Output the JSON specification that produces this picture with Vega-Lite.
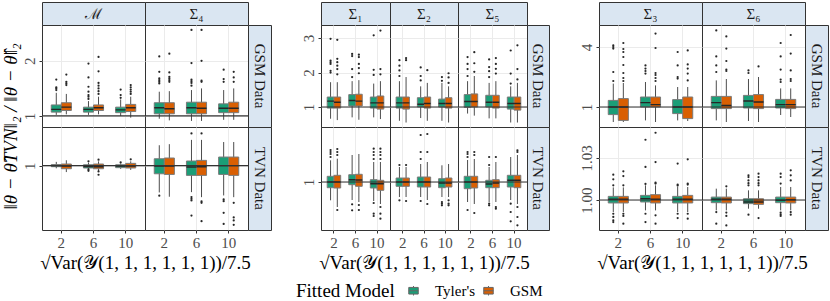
{
"$schema": "https://vega.github.io/schema/vega-lite/v6.json",
"background": "white",
"padding": {"left": 0, "top": 1, "right": 0, "bottom": 0},
"columns": 12, "spacing": 0, "bounds": "flush",
"resolve": {"scale": {"xOffset": "independent"}},
"datasets": {
"bGM": [{"x":"2","m":"Tyler's","lo":1.02,"q1":1.07,"md":1.12,"q3":1.2,"hi":1.42},{"x":"2","m":"GSM","lo":1.03,"q1":1.1,"md":1.16,"q3":1.24,"hi":1.4},{"x":"6","m":"Tyler's","lo":1.02,"q1":1.07,"md":1.12,"q3":1.16,"hi":1.27},{"x":"6","m":"GSM","lo":1.03,"q1":1.1,"md":1.15,"q3":1.2,"hi":1.35},{"x":"10","m":"Tyler's","lo":1.0,"q1":1.06,"md":1.11,"q3":1.16,"hi":1.3},{"x":"10","m":"GSM","lo":0.97,"q1":1.08,"md":1.15,"q3":1.21,"hi":1.35}],
"oGM": [{"x":"2","m":"Tyler's","v":[1.47,1.5,1.52,1.66]},{"x":"2","m":"GSM","v":[1.56,1.59,1.62,1.75]},{"x":"6","m":"Tyler's","v":[1.31,1.35,1.38,1.44,1.53,1.7,1.95]},{"x":"6","m":"GSM","v":[1.4,1.45,1.5,1.55,1.6,1.81,2.07]},{"x":"10","m":"Tyler's","v":[1.33,1.38,1.48]},{"x":"10","m":"GSM","v":[1.4,1.44,1.48,1.52,1.56]}],
"bG4": [{"x":"2","m":"Tyler's","lo":0.95,"q1":1.04,"md":1.15,"q3":1.24,"hi":1.44},{"x":"2","m":"GSM","lo":0.92,"q1":1.04,"md":1.13,"q3":1.24,"hi":1.45},{"x":"6","m":"Tyler's","lo":0.91,"q1":1.04,"md":1.15,"q3":1.25,"hi":1.47},{"x":"6","m":"GSM","lo":0.91,"q1":1.04,"md":1.14,"q3":1.25,"hi":1.5},{"x":"10","m":"Tyler's","lo":0.93,"q1":1.06,"md":1.14,"q3":1.22,"hi":1.47},{"x":"10","m":"GSM","lo":0.93,"q1":1.06,"md":1.14,"q3":1.25,"hi":1.5}],
"oG4": [{"x":"2","m":"Tyler's","v":[1.59,1.62,1.65,1.68,1.8,2.08]},{"x":"2","m":"GSM","v":[1.62,1.65,1.68,1.71,1.79,2.13]},{"x":"6","m":"Tyler's","v":[1.55,1.6,1.63,1.66,1.96,2.56]},{"x":"6","m":"GSM","v":[1.62,1.64,2.0,2.56]},{"x":"10","m":"Tyler's","v":[1.62,1.67,1.84]},{"x":"10","m":"GSM","v":[1.62,1.7,1.8]}],
"bTM": [{"x":"2","m":"Tyler's","lo":0.975,"q1":0.99,"md":1.0,"q3":1.01,"hi":1.035},{"x":"2","m":"GSM","lo":0.94,"q1":0.971,"md":0.995,"q3":1.015,"hi":1.05},{"x":"6","m":"Tyler's","lo":0.96,"q1":0.978,"md":0.992,"q3":1.008,"hi":1.027},{"x":"6","m":"GSM","lo":0.95,"q1":0.971,"md":0.99,"q3":1.015,"hi":1.04},{"x":"10","m":"Tyler's","lo":0.97,"q1":0.981,"md":0.995,"q3":1.008,"hi":1.02},{"x":"10","m":"GSM","lo":0.96,"q1":0.978,"md":0.996,"q3":1.021,"hi":1.04}],
"oTM": [{"x":"6","m":"Tyler's","v":[1.04,0.952,0.965]},{"x":"6","m":"GSM","v":[1.055,0.946,0.915]},{"x":"10","m":"Tyler's","v":[1.03]},{"x":"10","m":"GSM","v":[1.059]}],
"bT4": [{"x":"2","m":"Tyler's","lo":0.75,"q1":0.924,"md":0.995,"q3":1.064,"hi":1.19},{"x":"2","m":"GSM","lo":0.71,"q1":0.918,"md":0.995,"q3":1.071,"hi":1.2},{"x":"6","m":"Tyler's","lo":0.753,"q1":0.909,"md":0.987,"q3":1.043,"hi":1.24},{"x":"6","m":"GSM","lo":0.706,"q1":0.909,"md":0.99,"q3":1.049,"hi":1.24},{"x":"10","m":"Tyler's","lo":0.722,"q1":0.918,"md":1.0,"q3":1.08,"hi":1.22},{"x":"10","m":"GSM","lo":0.706,"q1":0.909,"md":1.0,"q3":1.08,"hi":1.22}],
"oT4": [{"x":"2","m":"Tyler's","v":[0.72]},{"x":"6","m":"Tyler's","v":[1.3,0.707,0.691,0.676,0.535]},{"x":"6","m":"GSM","v":[1.3,0.666,0.653,0.482]},{"x":"10","m":"Tyler's","v":[0.685,0.669,0.56,0.457]},{"x":"10","m":"GSM","v":[0.653,0.517,0.489,0.448]}],
"bG1": [{"x":"2","m":"Tyler's","lo":0.66,"q1":0.97,"md":1.17,"q3":1.29,"hi":1.72},{"x":"2","m":"GSM","lo":0.62,"q1":0.97,"md":1.14,"q3":1.29,"hi":1.72},{"x":"6","m":"Tyler's","lo":0.7,"q1":1.03,"md":1.19,"q3":1.36,"hi":1.75},{"x":"6","m":"GSM","lo":0.63,"q1":1.03,"md":1.17,"q3":1.37,"hi":1.78},{"x":"10","m":"Tyler's","lo":0.7,"q1":0.97,"md":1.12,"q3":1.29,"hi":1.68},{"x":"10","m":"GSM","lo":0.65,"q1":0.94,"md":1.12,"q3":1.32,"hi":1.75}],
"oG1": [{"x":"2","m":"Tyler's","v":[2.0,2.05,2.25,2.3,2.35,2.98]},{"x":"2","m":"GSM","v":[1.95,2.1,2.2,2.3,2.4,2.95]},{"x":"6","m":"Tyler's","v":[1.87,2.1,2.48,2.54]},{"x":"6","m":"GSM","v":[1.98,2.13,2.25,2.45,2.52]},{"x":"10","m":"Tyler's","v":[1.93,2.08,3.08]},{"x":"10","m":"GSM","v":[1.95,2.1,3.22]}],
"bG2": [{"x":"2","m":"Tyler's","lo":0.6,"q1":0.97,"md":1.12,"q3":1.29,"hi":1.75},{"x":"2","m":"GSM","lo":0.55,"q1":0.94,"md":1.12,"q3":1.29,"hi":1.87},{"x":"6","m":"Tyler's","lo":0.68,"q1":1.0,"md":1.08,"q3":1.27,"hi":1.6},{"x":"6","m":"GSM","lo":0.6,"q1":0.97,"md":1.1,"q3":1.29,"hi":1.7},{"x":"10","m":"Tyler's","lo":0.6,"q1":1.0,"md":1.1,"q3":1.23,"hi":1.7},{"x":"10","m":"GSM","lo":0.55,"q1":0.97,"md":1.1,"q3":1.27,"hi":1.6}],
"oG2": [{"x":"2","m":"Tyler's","v":[1.9,2.06,2.2,2.36]},{"x":"2","m":"GSM","v":[2.36,2.42]},{"x":"6","m":"Tyler's","v":[1.77,1.9,2.15]},{"x":"6","m":"GSM","v":[2.07]},{"x":"10","m":"Tyler's","v":[1.76,1.87]},{"x":"10","m":"GSM","v":[1.7,1.86,1.98]}],
"bG5": [{"x":"2","m":"Tyler's","lo":0.81,"q1":0.99,"md":1.16,"q3":1.36,"hi":1.75},{"x":"2","m":"GSM","lo":0.75,"q1":1.0,"md":1.16,"q3":1.38,"hi":1.9},{"x":"6","m":"Tyler's","lo":0.67,"q1":1.0,"md":1.14,"q3":1.34,"hi":1.7},{"x":"6","m":"GSM","lo":0.67,"q1":0.97,"md":1.14,"q3":1.34,"hi":1.75},{"x":"10","m":"Tyler's","lo":0.55,"q1":0.94,"md":1.1,"q3":1.29,"hi":1.6},{"x":"10","m":"GSM","lo":0.55,"q1":0.91,"md":1.1,"q3":1.29,"hi":1.7}],
"oG5": [{"x":"2","m":"Tyler's","v":[1.9,2.1,2.25,2.45]},{"x":"2","m":"GSM","v":[2.02,2.27,2.59]},{"x":"6","m":"Tyler's","v":[1.87,2.04,2.16,2.38]},{"x":"6","m":"GSM","v":[1.97,2.11,2.25,2.42]},{"x":"10","m":"Tyler's","v":[1.68,1.97,2.64]},{"x":"10","m":"GSM","v":[1.8,2.1,2.79]}],
"bT1": [{"x":"2","m":"Tyler's","lo":0.817,"q1":0.943,"md":1.0,"q3":1.057,"hi":1.217},{"x":"2","m":"GSM","lo":0.75,"q1":0.94,"md":1.0,"q3":1.067,"hi":1.233},{"x":"6","m":"Tyler's","lo":0.82,"q1":0.973,"md":1.023,"q3":1.073,"hi":1.27},{"x":"6","m":"GSM","lo":0.8,"q1":0.957,"md":1.02,"q3":1.077,"hi":1.28},{"x":"10","m":"Tyler's","lo":0.81,"q1":0.94,"md":0.983,"q3":1.023,"hi":1.2},{"x":"10","m":"GSM","lo":0.78,"q1":0.917,"md":0.983,"q3":1.017,"hi":1.2}],
"oT1": [{"x":"2","m":"Tyler's","v":[1.25,1.28,1.3,1.32]},{"x":"2","m":"GSM","v":[1.27,1.3,1.33,0.72]},{"x":"6","m":"Tyler's","v":[0.777,0.717]},{"x":"6","m":"GSM","v":[0.77,0.72]},{"x":"10","m":"Tyler's","v":[1.23,1.27,1.3,1.333,0.79,0.683,0.66]},{"x":"10","m":"GSM","v":[1.23,1.27,1.3,1.333,0.75,0.683,0.633]}],
"bT2": [{"x":"2","m":"Tyler's","lo":0.85,"q1":0.957,"md":1.0,"q3":1.04,"hi":1.15},{"x":"2","m":"GSM","lo":0.85,"q1":0.957,"md":1.0,"q3":1.04,"hi":1.15},{"x":"6","m":"Tyler's","lo":0.85,"q1":0.95,"md":1.0,"q3":1.05,"hi":1.18},{"x":"6","m":"GSM","lo":0.82,"q1":0.95,"md":1.0,"q3":1.05,"hi":1.2},{"x":"10","m":"Tyler's","lo":0.85,"q1":0.943,"md":0.99,"q3":1.033,"hi":1.167},{"x":"10","m":"GSM","lo":0.85,"q1":0.95,"md":0.99,"q3":1.04,"hi":1.18}],
"oT2": [{"x":"2","m":"Tyler's","v":[1.17,0.817]},{"x":"2","m":"GSM","v":[1.17,0.81]},{"x":"6","m":"Tyler's","v":[1.23,1.3,1.47,0.81]},{"x":"6","m":"GSM","v":[1.3,1.48,0.78]},{"x":"10","m":"Tyler's","v":[0.8,0.783,0.767]},{"x":"10","m":"GSM","v":[0.817,0.783,0.767]}],
"bT5": [{"x":"2","m":"Tyler's","lo":0.8,"q1":0.933,"md":1.0,"q3":1.057,"hi":1.22},{"x":"2","m":"GSM","lo":0.78,"q1":0.94,"md":1.0,"q3":1.057,"hi":1.23},{"x":"6","m":"Tyler's","lo":0.8,"q1":0.943,"md":0.98,"q3":1.017,"hi":1.15},{"x":"6","m":"GSM","lo":0.8,"q1":0.943,"md":0.99,"q3":1.023,"hi":1.2},{"x":"10","m":"Tyler's","lo":0.82,"q1":0.95,"md":1.017,"q3":1.067,"hi":1.25},{"x":"10","m":"GSM","lo":0.78,"q1":0.943,"md":1.017,"q3":1.067,"hi":1.27}],
"oT5": [{"x":"2","m":"Tyler's","v":[1.25,1.28,1.3,0.72]},{"x":"2","m":"GSM","v":[1.27,1.3,0.69]},{"x":"6","m":"Tyler's","v":[1.17,1.25,0.783,0.767]},{"x":"6","m":"GSM","v":[1.25,0.75,0.733]},{"x":"10","m":"Tyler's","v":[0.783,0.7,0.607]},{"x":"10","m":"GSM","v":[1.3,1.317,0.75,0.65,0.567]}],
"bG3": [{"x":"2","m":"Tyler's","lo":0.25,"q1":0.62,"md":1.0,"q3":1.33,"hi":2.17},{"x":"2","m":"GSM","lo":0.25,"q1":0.33,"md":1.0,"q3":1.42,"hi":2.2},{"x":"6","m":"Tyler's","lo":0.33,"q1":1.0,"md":1.22,"q3":1.5,"hi":2.25},{"x":"6","m":"GSM","lo":0.25,"q1":1.0,"md":1.12,"q3":1.5,"hi":2.08},{"x":"10","m":"Tyler's","lo":0.33,"q1":0.67,"md":1.0,"q3":1.37,"hi":2.0},{"x":"10","m":"GSM","lo":0.3,"q1":0.42,"md":1.0,"q3":1.5,"hi":2.0}],
"oG3": [{"x":"2","m":"Tyler's","v":[2.3,2.75,3.92,4.0,4.08]},{"x":"2","m":"GSM","v":[2.3,2.45,2.7,3.1,3.5,3.75,3.9,4.2]},{"x":"6","m":"Tyler's","v":[2.67,2.8,2.92,3.08]},{"x":"6","m":"GSM","v":[2.3,2.45,2.6,2.7,3.95,4.67]},{"x":"10","m":"Tyler's","v":[2.42,2.5,3.08,3.75]},{"x":"10","m":"GSM","v":[2.33,2.67,2.92,3.13,3.83]}],
"bG6": [{"x":"2","m":"Tyler's","lo":0.33,"q1":0.92,"md":1.22,"q3":1.53,"hi":2.33},{"x":"2","m":"GSM","lo":0.25,"q1":0.92,"md":1.08,"q3":1.53,"hi":2.4},{"x":"6","m":"Tyler's","lo":0.3,"q1":0.95,"md":1.3,"q3":1.58,"hi":2.4},{"x":"6","m":"GSM","lo":0.25,"q1":0.92,"md":1.25,"q3":1.62,"hi":2.5},{"x":"10","m":"Tyler's","lo":0.6,"q1":0.95,"md":1.12,"q3":1.38,"hi":1.93},{"x":"10","m":"GSM","lo":0.5,"q1":0.92,"md":1.12,"q3":1.38,"hi":1.93}],
"oG6": [{"x":"2","m":"Tyler's","v":[2.75,3.08,3.53,4.83]},{"x":"2","m":"GSM","v":[2.8,2.87,3.3,3.92,4.53]},{"x":"6","m":"Tyler's","v":[2.7,2.83]},{"x":"6","m":"GSM","v":[3.03]},{"x":"10","m":"Tyler's","v":[2.25,2.37,2.87,3.53,4.2]},{"x":"10","m":"GSM","v":[2.3,2.4,2.83,3.67,4.6]}],
"bT3": [{"x":"2","m":"Tyler's","lo":0.9914,"q1":0.9979,"md":1.0005,"q3":1.0026,"hi":1.009},{"x":"2","m":"GSM","lo":0.9914,"q1":0.9979,"md":1.0005,"q3":1.0026,"hi":1.009},{"x":"6","m":"Tyler's","lo":0.9926,"q1":0.9986,"md":1.001,"q3":1.0033,"hi":1.0105},{"x":"6","m":"GSM","lo":0.9926,"q1":0.9979,"md":1.0005,"q3":1.0038,"hi":1.0105},{"x":"10","m":"Tyler's","lo":0.9914,"q1":0.9979,"md":1.0005,"q3":1.0026,"hi":1.0093},{"x":"10","m":"GSM","lo":0.9914,"q1":0.9979,"md":1.0005,"q3":1.0033,"hi":1.0093}],
"oT3": [{"x":"2","m":"Tyler's","v":[1.0105,1.0148,1.0181,0.9902,0.9879,0.9855,0.9843]},{"x":"2","m":"GSM","v":[1.0105,1.0171,1.0205,0.9902,0.9886,0.9831]},{"x":"6","m":"Tyler's","v":[1.0115,1.0236,1.043,0.9902,0.9843]},{"x":"6","m":"GSM","v":[1.0117,1.0124,1.0271,1.048,0.9891,0.9831]},{"x":"10","m":"Tyler's","v":[1.0103,1.011,1.026,0.9902,0.9871]},{"x":"10","m":"GSM","v":[1.011,1.0117,1.029,0.9902,0.9867]}],
"bT6": [{"x":"2","m":"Tyler's","lo":0.9926,"q1":0.9981,"md":1.0005,"q3":1.0021,"hi":1.0081},{"x":"2","m":"GSM","lo":0.9926,"q1":0.9979,"md":1.0005,"q3":1.0021,"hi":1.0081},{"x":"6","m":"Tyler's","lo":0.9938,"q1":0.9974,"md":0.9986,"q3":1.0009,"hi":1.0069},{"x":"6","m":"GSM","lo":0.9938,"q1":0.9969,"md":0.9986,"q3":1.0009,"hi":1.0069},{"x":"10","m":"Tyler's","lo":0.9926,"q1":0.9981,"md":0.9998,"q3":1.0021,"hi":1.0093},{"x":"10","m":"GSM","lo":0.9926,"q1":0.9979,"md":1.0002,"q3":1.0021,"hi":1.0093}],
"oT6": [{"x":"2","m":"Tyler's","v":[0.9914,0.9831]},{"x":"2","m":"GSM","v":[1.0098,0.991,0.9886,0.9819]},{"x":"6","m":"Tyler's","v":[1.0105,1.012,1.014,1.0164,1.0176,0.9895]},{"x":"6","m":"GSM","v":[1.0105,1.012,1.014,1.0164,1.0188,0.9871]},{"x":"10","m":"Tyler's","v":[1.0117,1.0164,1.0188,0.991,0.9898,0.9886]},{"x":"10","m":"GSM","v":[1.014,1.0176,1.0212,0.9914,0.9895]}]
},
"concat": [
{"width":103,"height":23,"view":{"fill":"#dae6f2","stroke":"#333"},"data":{"values":[{"t":"ℳ"}]},"mark":{"type":"text","fontSize":15,"color":"#1a1a1a"},"encoding":{"text":{"field":"t"},"x":{"field":"t","type":"nominal","axis":null},"y":{"field":"t","type":"nominal","axis":null}}},
{"width":103,"height":23,"view":{"fill":"#dae6f2","stroke":"#333"},"data":{"values":[{"t":"Σ₄"}]},"mark":{"type":"text","fontSize":15,"color":"#1a1a1a"},"encoding":{"text":{"field":"t"},"x":{"field":"t","type":"nominal","axis":null},"y":{"field":"t","type":"nominal","axis":null}}},
{"width":23,"height":23,"view":{"stroke":null},"data":{"values":[]},"mark":"text","encoding":{}},
{"width":50,"height":23,"view":{"stroke":null},"data":{"values":[]},"mark":"text","encoding":{}},
{"width":69,"height":23,"view":{"fill":"#dae6f2","stroke":"#333"},"data":{"values":[{"t":"Σ₁"}]},"mark":{"type":"text","fontSize":15,"color":"#1a1a1a"},"encoding":{"text":{"field":"t"},"x":{"field":"t","type":"nominal","axis":null},"y":{"field":"t","type":"nominal","axis":null}}},
{"width":68,"height":23,"view":{"fill":"#dae6f2","stroke":"#333"},"data":{"values":[{"t":"Σ₂"}]},"mark":{"type":"text","fontSize":15,"color":"#1a1a1a"},"encoding":{"text":{"field":"t"},"x":{"field":"t","type":"nominal","axis":null},"y":{"field":"t","type":"nominal","axis":null}}},
{"width":69,"height":23,"view":{"fill":"#dae6f2","stroke":"#333"},"data":{"values":[{"t":"Σ₅"}]},"mark":{"type":"text","fontSize":15,"color":"#1a1a1a"},"encoding":{"text":{"field":"t"},"x":{"field":"t","type":"nominal","axis":null},"y":{"field":"t","type":"nominal","axis":null}}},
{"width":22,"height":23,"view":{"stroke":null},"data":{"values":[]},"mark":"text","encoding":{}},
{"width":50,"height":23,"view":{"stroke":null},"data":{"values":[]},"mark":"text","encoding":{}},
{"width":103,"height":23,"view":{"fill":"#dae6f2","stroke":"#333"},"data":{"values":[{"t":"Σ₃"}]},"mark":{"type":"text","fontSize":15,"color":"#1a1a1a"},"encoding":{"text":{"field":"t"},"x":{"field":"t","type":"nominal","axis":null},"y":{"field":"t","type":"nominal","axis":null}}},
{"width":103,"height":23,"view":{"fill":"#dae6f2","stroke":"#333"},"data":{"values":[{"t":"Σ₆"}]},"mark":{"type":"text","fontSize":15,"color":"#1a1a1a"},"encoding":{"text":{"field":"t"},"x":{"field":"t","type":"nominal","axis":null},"y":{"field":"t","type":"nominal","axis":null}}},
{"width":23,"height":23,"view":{"stroke":null},"data":{"values":[]},"mark":"text","encoding":{}},

{"width":103,"height":102,"layer":[{"encoding":{"x":{"field":"x","type":"nominal","scale":{"type":"band","domain":["2","6","10"],"paddingInner":0,"paddingOuter":0.1},"axis":{"title":null,"labels":false,"ticks":false,"grid":true,"bandPosition":0.5}},"xOffset":{"field":"m","type":"nominal","scale":{"type":"band","domain":["Tyler's","GSM"],"paddingInner":0,"paddingOuter":0.6}}},"layer":[
{"data":{"name":"bGM"},"mark":{"type":"rule","color":"#4d4d4d"},"encoding":{"y":{"field":"lo","type":"quantitative","scale":{"domain":[0.8,2.65],"nice":false,"zero":false},"axis":{"values":[1,2],"format":"~g","labelAngle":270,"labelAlign":"center","labelBaseline":"bottom","grid":true,"title":"‖θ − θ̂TVN‖₂ / ‖θ − θ̂‖₂","titleFontStyle":"italic","titleY":101,"titlePadding":2}},"y2":{"field":"hi"}}},
{"data":{"name":"bGM"},"mark":{"type":"bar","stroke":"#7a7a7a","strokeWidth":1},"encoding":{"y":{"field":"q1","type":"quantitative"},"y2":{"field":"q3"},"color":{"field":"m","type":"nominal","title":"Fitted Model","scale":{"domain":["Tyler's","GSM"],"range":["#1b9e77","#d95f02"]}}}},
{"data":{"name":"bGM"},"mark":{"type":"bar","fillOpacity":0,"stroke":"#262626","strokeWidth":1.4},"encoding":{"y":{"field":"md","type":"quantitative"},"y2":{"field":"md"}}},
{"data":{"name":"oGM"},"transform":[{"flatten":["v"]}],"mark":{"type":"circle","size":5,"color":"#262626","opacity":1},"encoding":{"y":{"field":"v","type":"quantitative"}}}]},
{"data":{"values":[{"ref":1}]},"mark":{"type":"rule","color":"#333","strokeWidth":1.2},"encoding":{"y":{"field":"ref","type":"quantitative"}}}]},

{"width":103,"height":102,"layer":[{"encoding":{"x":{"field":"x","type":"nominal","scale":{"type":"band","domain":["2","6","10"],"paddingInner":0,"paddingOuter":0.1},"axis":{"title":null,"labels":false,"ticks":false,"grid":true,"bandPosition":0.5}},"xOffset":{"field":"m","type":"nominal","scale":{"type":"band","domain":["Tyler's","GSM"],"paddingInner":0,"paddingOuter":0.6}}},"layer":[
{"data":{"name":"bG4"},"mark":{"type":"rule","color":"#4d4d4d"},"encoding":{"y":{"field":"lo","type":"quantitative","scale":{"domain":[0.8,2.65],"nice":false,"zero":false},"axis":{"values":[1,2],"labels":false,"ticks":false,"grid":true,"title":null}},"y2":{"field":"hi"}}},
{"data":{"name":"bG4"},"mark":{"type":"bar","stroke":"#7a7a7a","strokeWidth":1},"encoding":{"y":{"field":"q1","type":"quantitative"},"y2":{"field":"q3"},"color":{"field":"m","type":"nominal","title":"Fitted Model","scale":{"domain":["Tyler's","GSM"],"range":["#1b9e77","#d95f02"]}}}},
{"data":{"name":"bG4"},"mark":{"type":"bar","fillOpacity":0,"stroke":"#262626","strokeWidth":1.4},"encoding":{"y":{"field":"md","type":"quantitative"},"y2":{"field":"md"}}},
{"data":{"name":"oG4"},"transform":[{"flatten":["v"]}],"mark":{"type":"circle","size":5,"color":"#262626","opacity":1},"encoding":{"y":{"field":"v","type":"quantitative"}}}]},
{"data":{"values":[{"ref":1}]},"mark":{"type":"rule","color":"#333","strokeWidth":1.2},"encoding":{"y":{"field":"ref","type":"quantitative"}}}]},

{"width":23,"height":102,"view":{"fill":"#dae6f2","stroke":"#333"},"data":{"values":[{"t":"GSM Data"}]},"mark":{"type":"text","angle":90,"fontSize":15,"color":"#1a1a1a"},"encoding":{"text":{"field":"t"},"x":{"field":"t","type":"nominal","axis":null},"y":{"field":"t","type":"nominal","axis":null}}},
{"width":50,"height":102,"view":{"stroke":null},"data":{"values":[]},"mark":"text","encoding":{}},

{"width":69,"height":102,"layer":[{"encoding":{"x":{"field":"x","type":"nominal","scale":{"type":"band","domain":["2","6","10"],"paddingInner":0,"paddingOuter":0.1},"axis":{"title":null,"labels":false,"ticks":false,"grid":true,"bandPosition":0.5}},"xOffset":{"field":"m","type":"nominal","scale":{"type":"band","domain":["Tyler's","GSM"],"paddingInner":0,"paddingOuter":0.6}}},"layer":[
{"data":{"name":"bG1"},"mark":{"type":"rule","color":"#4d4d4d"},"encoding":{"y":{"field":"lo","type":"quantitative","scale":{"domain":[0.42,3.38],"nice":false,"zero":false},"axis":{"values":[1,2,3],"format":"~g","labelAngle":270,"labelAlign":"center","labelBaseline":"bottom","grid":true,"title":null}},"y2":{"field":"hi"}}},
{"data":{"name":"bG1"},"mark":{"type":"bar","stroke":"#7a7a7a","strokeWidth":1},"encoding":{"y":{"field":"q1","type":"quantitative"},"y2":{"field":"q3"},"color":{"field":"m","type":"nominal","title":"Fitted Model","scale":{"domain":["Tyler's","GSM"],"range":["#1b9e77","#d95f02"]}}}},
{"data":{"name":"bG1"},"mark":{"type":"bar","fillOpacity":0,"stroke":"#262626","strokeWidth":1.4},"encoding":{"y":{"field":"md","type":"quantitative"},"y2":{"field":"md"}}},
{"data":{"name":"oG1"},"transform":[{"flatten":["v"]}],"mark":{"type":"circle","size":5,"color":"#262626","opacity":1},"encoding":{"y":{"field":"v","type":"quantitative"}}}]},
{"data":{"values":[{"ref":1}]},"mark":{"type":"rule","color":"#333","strokeWidth":1.2},"encoding":{"y":{"field":"ref","type":"quantitative"}}}]},

{"width":68,"height":102,"layer":[{"encoding":{"x":{"field":"x","type":"nominal","scale":{"type":"band","domain":["2","6","10"],"paddingInner":0,"paddingOuter":0.1},"axis":{"title":null,"labels":false,"ticks":false,"grid":true,"bandPosition":0.5}},"xOffset":{"field":"m","type":"nominal","scale":{"type":"band","domain":["Tyler's","GSM"],"paddingInner":0,"paddingOuter":0.6}}},"layer":[
{"data":{"name":"bG2"},"mark":{"type":"rule","color":"#4d4d4d"},"encoding":{"y":{"field":"lo","type":"quantitative","scale":{"domain":[0.42,3.38],"nice":false,"zero":false},"axis":{"values":[1,2,3],"labels":false,"ticks":false,"grid":true,"title":null}},"y2":{"field":"hi"}}},
{"data":{"name":"bG2"},"mark":{"type":"bar","stroke":"#7a7a7a","strokeWidth":1},"encoding":{"y":{"field":"q1","type":"quantitative"},"y2":{"field":"q3"},"color":{"field":"m","type":"nominal","title":"Fitted Model","scale":{"domain":["Tyler's","GSM"],"range":["#1b9e77","#d95f02"]}}}},
{"data":{"name":"bG2"},"mark":{"type":"bar","fillOpacity":0,"stroke":"#262626","strokeWidth":1.4},"encoding":{"y":{"field":"md","type":"quantitative"},"y2":{"field":"md"}}},
{"data":{"name":"oG2"},"transform":[{"flatten":["v"]}],"mark":{"type":"circle","size":5,"color":"#262626","opacity":1},"encoding":{"y":{"field":"v","type":"quantitative"}}}]},
{"data":{"values":[{"ref":1}]},"mark":{"type":"rule","color":"#333","strokeWidth":1.2},"encoding":{"y":{"field":"ref","type":"quantitative"}}}]},

{"width":69,"height":102,"layer":[{"encoding":{"x":{"field":"x","type":"nominal","scale":{"type":"band","domain":["2","6","10"],"paddingInner":0,"paddingOuter":0.1},"axis":{"title":null,"labels":false,"ticks":false,"grid":true,"bandPosition":0.5}},"xOffset":{"field":"m","type":"nominal","scale":{"type":"band","domain":["Tyler's","GSM"],"paddingInner":0,"paddingOuter":0.6}}},"layer":[
{"data":{"name":"bG5"},"mark":{"type":"rule","color":"#4d4d4d"},"encoding":{"y":{"field":"lo","type":"quantitative","scale":{"domain":[0.42,3.38],"nice":false,"zero":false},"axis":{"values":[1,2,3],"labels":false,"ticks":false,"grid":true,"title":null}},"y2":{"field":"hi"}}},
{"data":{"name":"bG5"},"mark":{"type":"bar","stroke":"#7a7a7a","strokeWidth":1},"encoding":{"y":{"field":"q1","type":"quantitative"},"y2":{"field":"q3"},"color":{"field":"m","type":"nominal","title":"Fitted Model","scale":{"domain":["Tyler's","GSM"],"range":["#1b9e77","#d95f02"]}}}},
{"data":{"name":"bG5"},"mark":{"type":"bar","fillOpacity":0,"stroke":"#262626","strokeWidth":1.4},"encoding":{"y":{"field":"md","type":"quantitative"},"y2":{"field":"md"}}},
{"data":{"name":"oG5"},"transform":[{"flatten":["v"]}],"mark":{"type":"circle","size":5,"color":"#262626","opacity":1},"encoding":{"y":{"field":"v","type":"quantitative"}}}]},
{"data":{"values":[{"ref":1}]},"mark":{"type":"rule","color":"#333","strokeWidth":1.2},"encoding":{"y":{"field":"ref","type":"quantitative"}}}]},

{"width":22,"height":102,"view":{"fill":"#dae6f2","stroke":"#333"},"data":{"values":[{"t":"GSM Data"}]},"mark":{"type":"text","angle":90,"fontSize":15,"color":"#1a1a1a"},"encoding":{"text":{"field":"t"},"x":{"field":"t","type":"nominal","axis":null},"y":{"field":"t","type":"nominal","axis":null}}},
{"width":50,"height":102,"view":{"stroke":null},"data":{"values":[]},"mark":"text","encoding":{}},

{"width":103,"height":102,"layer":[{"encoding":{"x":{"field":"x","type":"nominal","scale":{"type":"band","domain":["2","6","10"],"paddingInner":0,"paddingOuter":0.1},"axis":{"title":null,"labels":false,"ticks":false,"grid":true,"bandPosition":0.5}},"xOffset":{"field":"m","type":"nominal","scale":{"type":"band","domain":["Tyler's","GSM"],"paddingInner":0,"paddingOuter":0.6}}},"layer":[
{"data":{"name":"bG3"},"mark":{"type":"rule","color":"#4d4d4d"},"encoding":{"y":{"field":"lo","type":"quantitative","scale":{"domain":[0,5.1],"nice":false,"zero":false},"axis":{"values":[1,2,3,4],"format":"~g","labelAngle":270,"labelAlign":"center","labelBaseline":"bottom","grid":true,"title":null}},"y2":{"field":"hi"}}},
{"data":{"name":"bG3"},"mark":{"type":"bar","stroke":"#7a7a7a","strokeWidth":1},"encoding":{"y":{"field":"q1","type":"quantitative"},"y2":{"field":"q3"},"color":{"field":"m","type":"nominal","title":"Fitted Model","scale":{"domain":["Tyler's","GSM"],"range":["#1b9e77","#d95f02"]}}}},
{"data":{"name":"bG3"},"mark":{"type":"bar","fillOpacity":0,"stroke":"#262626","strokeWidth":1.4},"encoding":{"y":{"field":"md","type":"quantitative"},"y2":{"field":"md"}}},
{"data":{"name":"oG3"},"transform":[{"flatten":["v"]}],"mark":{"type":"circle","size":5,"color":"#262626","opacity":1},"encoding":{"y":{"field":"v","type":"quantitative"}}}]},
{"data":{"values":[{"ref":1}]},"mark":{"type":"rule","color":"#333","strokeWidth":1.2},"encoding":{"y":{"field":"ref","type":"quantitative"}}}]},

{"width":103,"height":102,"layer":[{"encoding":{"x":{"field":"x","type":"nominal","scale":{"type":"band","domain":["2","6","10"],"paddingInner":0,"paddingOuter":0.1},"axis":{"title":null,"labels":false,"ticks":false,"grid":true,"bandPosition":0.5}},"xOffset":{"field":"m","type":"nominal","scale":{"type":"band","domain":["Tyler's","GSM"],"paddingInner":0,"paddingOuter":0.6}}},"layer":[
{"data":{"name":"bG6"},"mark":{"type":"rule","color":"#4d4d4d"},"encoding":{"y":{"field":"lo","type":"quantitative","scale":{"domain":[0,5.1],"nice":false,"zero":false},"axis":{"values":[1,2,3,4],"labels":false,"ticks":false,"grid":true,"title":null}},"y2":{"field":"hi"}}},
{"data":{"name":"bG6"},"mark":{"type":"bar","stroke":"#7a7a7a","strokeWidth":1},"encoding":{"y":{"field":"q1","type":"quantitative"},"y2":{"field":"q3"},"color":{"field":"m","type":"nominal","title":"Fitted Model","scale":{"domain":["Tyler's","GSM"],"range":["#1b9e77","#d95f02"]}}}},
{"data":{"name":"bG6"},"mark":{"type":"bar","fillOpacity":0,"stroke":"#262626","strokeWidth":1.4},"encoding":{"y":{"field":"md","type":"quantitative"},"y2":{"field":"md"}}},
{"data":{"name":"oG6"},"transform":[{"flatten":["v"]}],"mark":{"type":"circle","size":5,"color":"#262626","opacity":1},"encoding":{"y":{"field":"v","type":"quantitative"}}}]},
{"data":{"values":[{"ref":1}]},"mark":{"type":"rule","color":"#333","strokeWidth":1.2},"encoding":{"y":{"field":"ref","type":"quantitative"}}}]},

{"width":23,"height":102,"view":{"fill":"#dae6f2","stroke":"#333"},"data":{"values":[{"t":"GSM Data"}]},"mark":{"type":"text","angle":90,"fontSize":15,"color":"#1a1a1a"},"encoding":{"text":{"field":"t"},"x":{"field":"t","type":"nominal","axis":null},"y":{"field":"t","type":"nominal","axis":null}}},

{"width":103,"height":103,"layer":[{"encoding":{"x":{"field":"x","type":"nominal","scale":{"type":"band","domain":["2","6","10"],"paddingInner":0,"paddingOuter":0.1},"axis":{"labelAngle":0,"grid":true,"bandPosition":0.5,"title":"√Var(𝒴(1, 1, 1, 1, 1, 1))/7.5","titleX":103,"titlePadding":3}},"xOffset":{"field":"m","type":"nominal","scale":{"type":"band","domain":["Tyler's","GSM"],"paddingInner":0,"paddingOuter":0.6}}},"layer":[
{"data":{"name":"bTM"},"mark":{"type":"rule","color":"#4d4d4d"},"encoding":{"y":{"field":"lo","type":"quantitative","scale":{"domain":[0.4,1.36],"nice":false,"zero":false},"axis":{"values":[1],"format":"~g","labelAngle":270,"labelAlign":"center","labelBaseline":"bottom","grid":true,"title":null}},"y2":{"field":"hi"}}},
{"data":{"name":"bTM"},"mark":{"type":"bar","stroke":"#7a7a7a","strokeWidth":1},"encoding":{"y":{"field":"q1","type":"quantitative"},"y2":{"field":"q3"},"color":{"field":"m","type":"nominal","title":"Fitted Model","scale":{"domain":["Tyler's","GSM"],"range":["#1b9e77","#d95f02"]}}}},
{"data":{"name":"bTM"},"mark":{"type":"bar","fillOpacity":0,"stroke":"#262626","strokeWidth":1.4},"encoding":{"y":{"field":"md","type":"quantitative"},"y2":{"field":"md"}}},
{"data":{"name":"oTM"},"transform":[{"flatten":["v"]}],"mark":{"type":"circle","size":5,"color":"#262626","opacity":1},"encoding":{"y":{"field":"v","type":"quantitative"}}}]},
{"data":{"values":[{"ref":1}]},"mark":{"type":"rule","color":"#333","strokeWidth":1.2},"encoding":{"y":{"field":"ref","type":"quantitative"}}}]},

{"width":103,"height":103,"layer":[{"encoding":{"x":{"field":"x","type":"nominal","scale":{"type":"band","domain":["2","6","10"],"paddingInner":0,"paddingOuter":0.1},"axis":{"labelAngle":0,"grid":true,"bandPosition":0.5,"title":null}},"xOffset":{"field":"m","type":"nominal","scale":{"type":"band","domain":["Tyler's","GSM"],"paddingInner":0,"paddingOuter":0.6}}},"layer":[
{"data":{"name":"bT4"},"mark":{"type":"rule","color":"#4d4d4d"},"encoding":{"y":{"field":"lo","type":"quantitative","scale":{"domain":[0.4,1.36],"nice":false,"zero":false},"axis":{"values":[1],"labels":false,"ticks":false,"grid":true,"title":null}},"y2":{"field":"hi"}}},
{"data":{"name":"bT4"},"mark":{"type":"bar","stroke":"#7a7a7a","strokeWidth":1},"encoding":{"y":{"field":"q1","type":"quantitative"},"y2":{"field":"q3"},"color":{"field":"m","type":"nominal","title":"Fitted Model","scale":{"domain":["Tyler's","GSM"],"range":["#1b9e77","#d95f02"]}}}},
{"data":{"name":"bT4"},"mark":{"type":"bar","fillOpacity":0,"stroke":"#262626","strokeWidth":1.4},"encoding":{"y":{"field":"md","type":"quantitative"},"y2":{"field":"md"}}},
{"data":{"name":"oT4"},"transform":[{"flatten":["v"]}],"mark":{"type":"circle","size":5,"color":"#262626","opacity":1},"encoding":{"y":{"field":"v","type":"quantitative"}}}]},
{"data":{"values":[{"ref":1}]},"mark":{"type":"rule","color":"#333","strokeWidth":1.2},"encoding":{"y":{"field":"ref","type":"quantitative"}}}]},

{"width":23,"height":103,"view":{"fill":"#dae6f2","stroke":"#333"},"data":{"values":[{"t":"TVN Data"}]},"mark":{"type":"text","angle":90,"fontSize":15,"color":"#1a1a1a"},"encoding":{"text":{"field":"t"},"x":{"field":"t","type":"nominal","axis":null},"y":{"field":"t","type":"nominal","axis":null}}},
{"width":50,"height":103,"view":{"stroke":null},"data":{"values":[]},"mark":"text","encoding":{}},

{"width":69,"height":103,"layer":[{"encoding":{"x":{"field":"x","type":"nominal","scale":{"type":"band","domain":["2","6","10"],"paddingInner":0,"paddingOuter":0.1},"axis":{"labelAngle":0,"grid":true,"bandPosition":0.5,"title":null}},"xOffset":{"field":"m","type":"nominal","scale":{"type":"band","domain":["Tyler's","GSM"],"paddingInner":0,"paddingOuter":0.6}}},"layer":[
{"data":{"name":"bT1"},"mark":{"type":"rule","color":"#4d4d4d"},"encoding":{"y":{"field":"lo","type":"quantitative","scale":{"domain":[0.52,1.55],"nice":false,"zero":false},"axis":{"values":[1],"format":"~g","labelAngle":270,"labelAlign":"center","labelBaseline":"bottom","grid":true,"title":null}},"y2":{"field":"hi"}}},
{"data":{"name":"bT1"},"mark":{"type":"bar","stroke":"#7a7a7a","strokeWidth":1},"encoding":{"y":{"field":"q1","type":"quantitative"},"y2":{"field":"q3"},"color":{"field":"m","type":"nominal","title":"Fitted Model","scale":{"domain":["Tyler's","GSM"],"range":["#1b9e77","#d95f02"]}}}},
{"data":{"name":"bT1"},"mark":{"type":"bar","fillOpacity":0,"stroke":"#262626","strokeWidth":1.4},"encoding":{"y":{"field":"md","type":"quantitative"},"y2":{"field":"md"}}},
{"data":{"name":"oT1"},"transform":[{"flatten":["v"]}],"mark":{"type":"circle","size":5,"color":"#262626","opacity":1},"encoding":{"y":{"field":"v","type":"quantitative"}}}]},
{"data":{"values":[{"ref":1}]},"mark":{"type":"rule","color":"#333","strokeWidth":1.2},"encoding":{"y":{"field":"ref","type":"quantitative"}}}]},

{"width":68,"height":103,"layer":[{"encoding":{"x":{"field":"x","type":"nominal","scale":{"type":"band","domain":["2","6","10"],"paddingInner":0,"paddingOuter":0.1},"axis":{"labelAngle":0,"grid":true,"bandPosition":0.5,"title":"√Var(𝒴(1, 1, 1, 1, 1, 1))/7.5","titlePadding":3}},"xOffset":{"field":"m","type":"nominal","scale":{"type":"band","domain":["Tyler's","GSM"],"paddingInner":0,"paddingOuter":0.6}}},"layer":[
{"data":{"name":"bT2"},"mark":{"type":"rule","color":"#4d4d4d"},"encoding":{"y":{"field":"lo","type":"quantitative","scale":{"domain":[0.52,1.55],"nice":false,"zero":false},"axis":{"values":[1],"labels":false,"ticks":false,"grid":true,"title":null}},"y2":{"field":"hi"}}},
{"data":{"name":"bT2"},"mark":{"type":"bar","stroke":"#7a7a7a","strokeWidth":1},"encoding":{"y":{"field":"q1","type":"quantitative"},"y2":{"field":"q3"},"color":{"field":"m","type":"nominal","title":"Fitted Model","scale":{"domain":["Tyler's","GSM"],"range":["#1b9e77","#d95f02"]}}}},
{"data":{"name":"bT2"},"mark":{"type":"bar","fillOpacity":0,"stroke":"#262626","strokeWidth":1.4},"encoding":{"y":{"field":"md","type":"quantitative"},"y2":{"field":"md"}}},
{"data":{"name":"oT2"},"transform":[{"flatten":["v"]}],"mark":{"type":"circle","size":5,"color":"#262626","opacity":1},"encoding":{"y":{"field":"v","type":"quantitative"}}}]},
{"data":{"values":[{"ref":1}]},"mark":{"type":"rule","color":"#333","strokeWidth":1.2},"encoding":{"y":{"field":"ref","type":"quantitative"}}}]},

{"width":69,"height":103,"layer":[{"encoding":{"x":{"field":"x","type":"nominal","scale":{"type":"band","domain":["2","6","10"],"paddingInner":0,"paddingOuter":0.1},"axis":{"labelAngle":0,"grid":true,"bandPosition":0.5,"title":null}},"xOffset":{"field":"m","type":"nominal","scale":{"type":"band","domain":["Tyler's","GSM"],"paddingInner":0,"paddingOuter":0.6}}},"layer":[
{"data":{"name":"bT5"},"mark":{"type":"rule","color":"#4d4d4d"},"encoding":{"y":{"field":"lo","type":"quantitative","scale":{"domain":[0.52,1.55],"nice":false,"zero":false},"axis":{"values":[1],"labels":false,"ticks":false,"grid":true,"title":null}},"y2":{"field":"hi"}}},
{"data":{"name":"bT5"},"mark":{"type":"bar","stroke":"#7a7a7a","strokeWidth":1},"encoding":{"y":{"field":"q1","type":"quantitative"},"y2":{"field":"q3"},"color":{"field":"m","type":"nominal","title":"Fitted Model","scale":{"domain":["Tyler's","GSM"],"range":["#1b9e77","#d95f02"]}}}},
{"data":{"name":"bT5"},"mark":{"type":"bar","fillOpacity":0,"stroke":"#262626","strokeWidth":1.4},"encoding":{"y":{"field":"md","type":"quantitative"},"y2":{"field":"md"}}},
{"data":{"name":"oT5"},"transform":[{"flatten":["v"]}],"mark":{"type":"circle","size":5,"color":"#262626","opacity":1},"encoding":{"y":{"field":"v","type":"quantitative"}}}]},
{"data":{"values":[{"ref":1}]},"mark":{"type":"rule","color":"#333","strokeWidth":1.2},"encoding":{"y":{"field":"ref","type":"quantitative"}}}]},

{"width":22,"height":103,"view":{"fill":"#dae6f2","stroke":"#333"},"data":{"values":[{"t":"TVN Data"}]},"mark":{"type":"text","angle":90,"fontSize":15,"color":"#1a1a1a"},"encoding":{"text":{"field":"t"},"x":{"field":"t","type":"nominal","axis":null},"y":{"field":"t","type":"nominal","axis":null}}},
{"width":50,"height":103,"view":{"stroke":null},"data":{"values":[]},"mark":"text","encoding":{}},

{"width":103,"height":103,"layer":[{"encoding":{"x":{"field":"x","type":"nominal","scale":{"type":"band","domain":["2","6","10"],"paddingInner":0,"paddingOuter":0.1},"axis":{"labelAngle":0,"grid":true,"bandPosition":0.5,"title":"√Var(𝒴(1, 1, 1, 1, 1, 1))/7.5","titleX":103,"titlePadding":3}},"xOffset":{"field":"m","type":"nominal","scale":{"type":"band","domain":["Tyler's","GSM"],"paddingInner":0,"paddingOuter":0.6}}},"layer":[
{"data":{"name":"bT3"},"mark":{"type":"rule","color":"#4d4d4d"},"encoding":{"y":{"field":"lo","type":"quantitative","scale":{"domain":[0.9786,1.0521],"nice":false,"zero":false},"axis":{"values":[1,1.03],"format":".2f","labelAngle":270,"labelAlign":"center","labelBaseline":"bottom","grid":true,"title":null}},"y2":{"field":"hi"}}},
{"data":{"name":"bT3"},"mark":{"type":"bar","stroke":"#7a7a7a","strokeWidth":1},"encoding":{"y":{"field":"q1","type":"quantitative"},"y2":{"field":"q3"},"color":{"field":"m","type":"nominal","title":"Fitted Model","scale":{"domain":["Tyler's","GSM"],"range":["#1b9e77","#d95f02"]}}}},
{"data":{"name":"bT3"},"mark":{"type":"bar","fillOpacity":0,"stroke":"#262626","strokeWidth":1.4},"encoding":{"y":{"field":"md","type":"quantitative"},"y2":{"field":"md"}}},
{"data":{"name":"oT3"},"transform":[{"flatten":["v"]}],"mark":{"type":"circle","size":5,"color":"#262626","opacity":1},"encoding":{"y":{"field":"v","type":"quantitative"}}}]},
{"data":{"values":[{"ref":1}]},"mark":{"type":"rule","color":"#333","strokeWidth":1.2},"encoding":{"y":{"field":"ref","type":"quantitative"}}}]},

{"width":103,"height":103,"layer":[{"encoding":{"x":{"field":"x","type":"nominal","scale":{"type":"band","domain":["2","6","10"],"paddingInner":0,"paddingOuter":0.1},"axis":{"labelAngle":0,"grid":true,"bandPosition":0.5,"title":null}},"xOffset":{"field":"m","type":"nominal","scale":{"type":"band","domain":["Tyler's","GSM"],"paddingInner":0,"paddingOuter":0.6}}},"layer":[
{"data":{"name":"bT6"},"mark":{"type":"rule","color":"#4d4d4d"},"encoding":{"y":{"field":"lo","type":"quantitative","scale":{"domain":[0.9786,1.0521],"nice":false,"zero":false},"axis":{"values":[1,1.03],"labels":false,"ticks":false,"grid":true,"title":null}},"y2":{"field":"hi"}}},
{"data":{"name":"bT6"},"mark":{"type":"bar","stroke":"#7a7a7a","strokeWidth":1},"encoding":{"y":{"field":"q1","type":"quantitative"},"y2":{"field":"q3"},"color":{"field":"m","type":"nominal","title":"Fitted Model","scale":{"domain":["Tyler's","GSM"],"range":["#1b9e77","#d95f02"]}}}},
{"data":{"name":"bT6"},"mark":{"type":"bar","fillOpacity":0,"stroke":"#262626","strokeWidth":1.4},"encoding":{"y":{"field":"md","type":"quantitative"},"y2":{"field":"md"}}},
{"data":{"name":"oT6"},"transform":[{"flatten":["v"]}],"mark":{"type":"circle","size":5,"color":"#262626","opacity":1},"encoding":{"y":{"field":"v","type":"quantitative"}}}]},
{"data":{"values":[{"ref":1}]},"mark":{"type":"rule","color":"#333","strokeWidth":1.2},"encoding":{"y":{"field":"ref","type":"quantitative"}}}]},

{"width":23,"height":103,"view":{"fill":"#dae6f2","stroke":"#333"},"data":{"values":[{"t":"TVN Data"}]},"mark":{"type":"text","angle":90,"fontSize":15,"color":"#1a1a1a"},"encoding":{"text":{"field":"t"},"x":{"field":"t","type":"nominal","axis":null},"y":{"field":"t","type":"nominal","axis":null}}}
],
"config": {
"font": "Liberation Serif",
"view": {"stroke": "#333", "strokeWidth": 1},
"axis": {"gridColor": "#ebebeb", "gridWidth": 1, "domain": false, "tickColor": "#333", "tickSize": 3, "labelColor": "#4d4d4d", "labelFont": "Liberation Serif", "labelFontSize": 15, "labelPadding": 2, "titleFont": "Liberation Serif", "titleFontSize": 19, "titleFontWeight": "normal", "titleColor": "#000"},
"legend": {"orient": "none", "legendX": 254, "legendY": 281, "direction": "horizontal", "titleOrient": "left", "titleFont": "Liberation Serif", "titleFontSize": 19, "titleFontWeight": "normal", "titleColor": "#000", "titlePadding": 11, "labelFont": "Liberation Serif", "labelFontSize": 15, "labelColor": "#000", "labelOffset": 14, "columnPadding": 6, "symbolType": "M-1,-0.7H1V0.7H-1Z M-1,0H1 M0,-1V-0.7 M0,0.7V1", "symbolSize": 90, "symbolStrokeColor": "#666", "symbolStrokeWidth": 1}
}
}
